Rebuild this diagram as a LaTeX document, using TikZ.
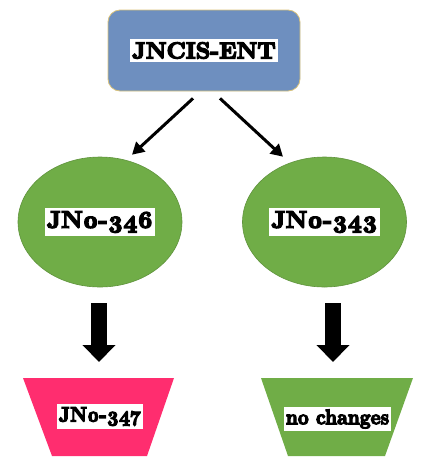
\documentclass[tikz,border=0pt]{standalone}
\usepackage{fontspec}
\newfontfamily\heavy{lmroman10-bold.otf}[FakeBold=6,Numbers=OldStyle]
\usetikzlibrary{shapes.geometric,arrows.meta,calc}
\definecolor{boxblue}{HTML}{6E8FBF}
\definecolor{boxgold}{HTML}{D9C27A}
\definecolor{leafgreen}{HTML}{70AD47}
\definecolor{hotpink}{HTML}{FF2D6F}
\begin{document}
\begin{tikzpicture}[x=1pt,y=-1pt,
  labelbox/.style={fill=white, inner xsep=2pt, inner ysep=3.5pt, font=\heavy\fontsize{24}{26}\selectfont},
  toplabelbox/.style={labelbox, font=\heavy\fontsize{23}{25}\selectfont},
  smalllabel/.style={labelbox, inner ysep=3pt, font=\heavy\fontsize{21}{23}\selectfont},
  topbox/.style={rectangle, rounded corners=12pt, fill=boxblue, draw=boxgold, line width=0.8pt, minimum width=192pt, minimum height=81pt, inner sep=0pt},
  greenoval/.style={ellipse, fill=leafgreen, draw=leafgreen!85!black, line width=0.6pt, minimum width=164pt, minimum height=130pt, inner sep=0pt},
  thinarrow/.style={line width=3pt, -{Triangle[length=12pt,width=13pt]}},
  blockarrow/.style={line width=16pt, -{Triangle[length=17pt,width=32pt]}}
]
\useasboundingbox (0,0) rectangle (441,459);
\node[topbox] (top) at (204,50.5) {};
\node[toplabelbox] (toplabel) at (top) {JNCIS-ENT};
\node[greenoval] (e1) at (100,222) {};
\node[greenoval] (e2) at (324.5,222) {};
\node[labelbox] (e1label) at (e1) {JN0-346};
\node[labelbox] (e2label) at (e2) {JN0-343};
\coordinate (t1top) at (99,378);
\coordinate (t2top) at (333,378);
\fill[hotpink] (23,378) -- (174,378) -- (147,456) -- (52,456) -- cycle;
\fill[leafgreen] (261,378) -- (413,378) -- (385,456) -- (288,456) -- cycle;
\node[smalllabel] (t1label) at (100,416.5) {\scalebox{0.9}[1]{JN0-347}};
\node[smalllabel] (t2label) at (337.5,419) {\scalebox{0.9}[1]{no changes}};
\draw[thinarrow] ($(top.south)+(-11,7)$) -- ($(e1.north)+(32,-2)$);
\draw[thinarrow] ($(top.south)+(16,7)$) -- ($(e2.north)+(-41.5,0)$);
\draw[blockarrow, shorten <=16pt, shorten >=16pt] (e1.south -| t1top) -- (t1top);
\draw[blockarrow, shorten <=16pt, shorten >=16pt] (e2.south -| t2top) -- (t2top);
\end{tikzpicture}
\end{document}
